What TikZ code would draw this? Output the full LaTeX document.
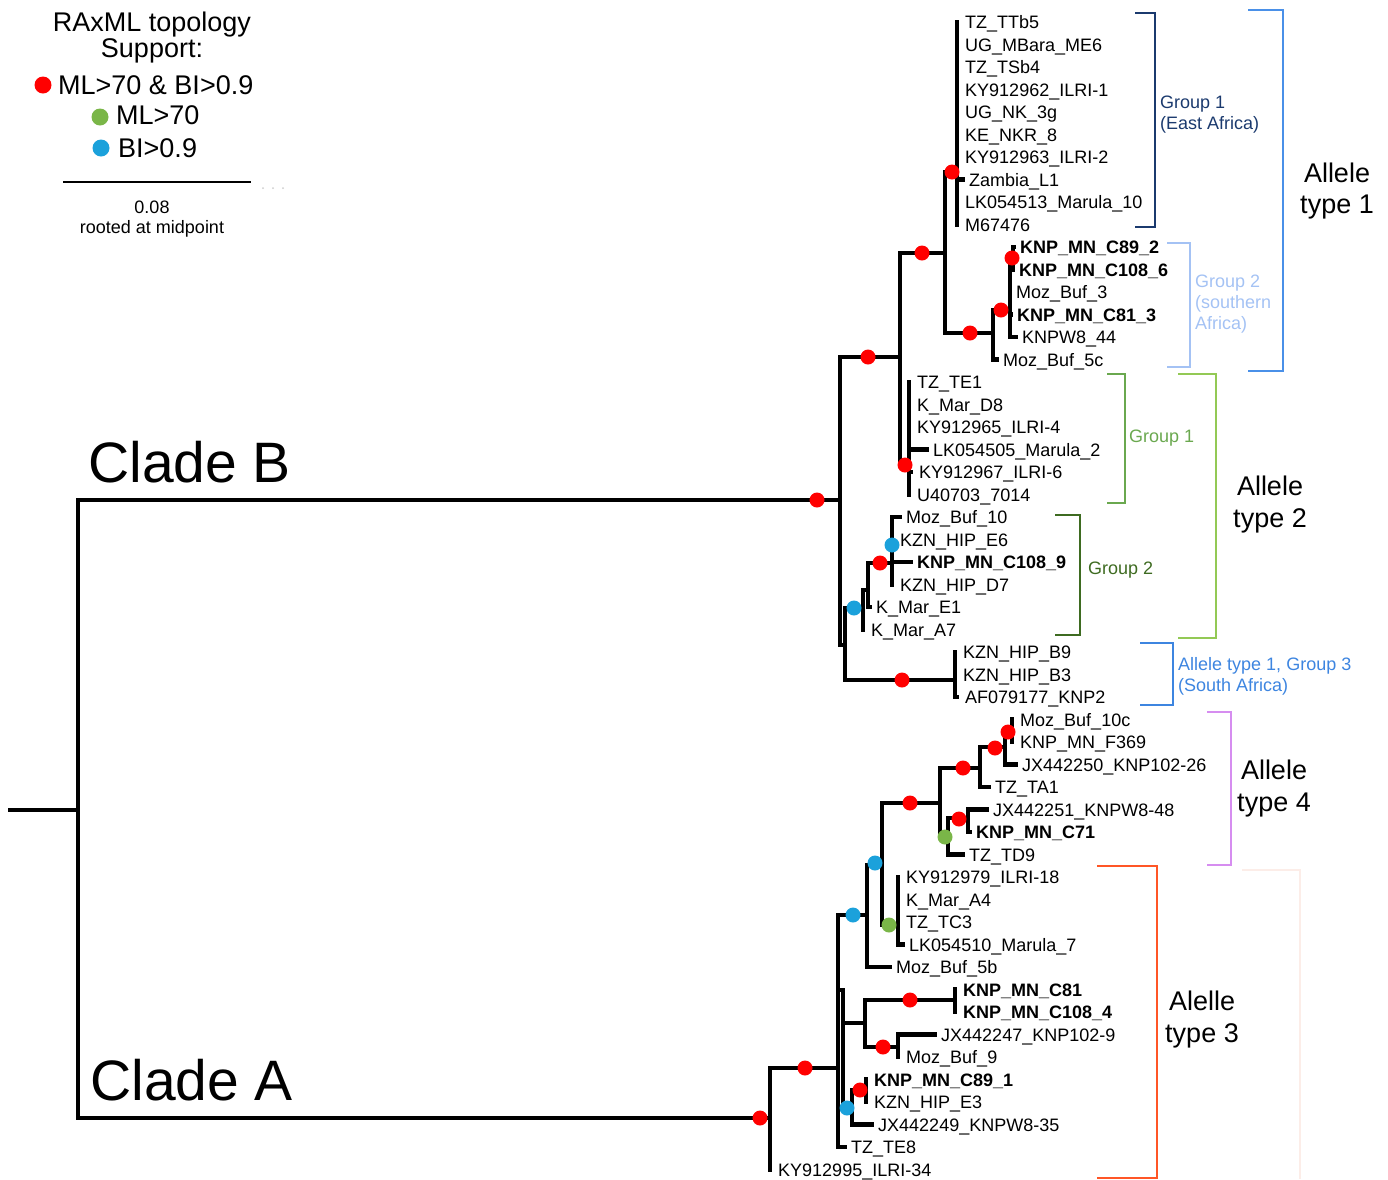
\documentclass[tikz,border=0pt]{standalone}
\usepackage{fontspec}
\setmainfont{Liberation Sans}
\definecolor{dotred}{HTML}{FF0000}
\definecolor{dotgreen}{HTML}{7AB648}
\definecolor{dotblue}{HTML}{1BA1DB}
\definecolor{eastnavy}{HTML}{1B3A6E}
\definecolor{southblue}{HTML}{A4C2F4}
\definecolor{typeoneblue}{HTML}{4A90E8}
\definecolor{grponegreen}{HTML}{6AA84F}
\definecolor{typetwogreen}{HTML}{93C955}
\definecolor{grptwogreen}{HTML}{3E6B21}
\definecolor{grpthreeblue}{HTML}{3D85E0}
\definecolor{typefourviolet}{HTML}{D68DF0}
\definecolor{typethreeorange}{HTML}{FF5626}
\definecolor{faintpink}{HTML}{FCEDE8}

\begin{document}
\begin{tikzpicture}[x=1pt,y=-1pt]
\tikzstyle{branch}=[line width=4.5pt,line cap=rect]
\tikzstyle{leaf}=[anchor=west,inner xsep=6pt,inner ysep=0pt,text height=13pt,text depth=0pt,font=\fontsize{18}{21}\selectfont]
\tikzstyle{leafbold}=[leaf,font=\fontsize{18}{21}\selectfont\bfseries]
\tikzstyle{leafz}=[leaf,inner xsep=8pt]
\tikzstyle{leafzbold}=[leafbold,inner xsep=8pt]
\tikzstyle{ml_bi}=[circle,fill=dotred,inner sep=0pt,minimum size=15pt]
\tikzstyle{ml}=[circle,fill=dotgreen,inner sep=0pt,minimum size=15pt]
\tikzstyle{bi}=[circle,fill=dotblue,inner sep=0pt,minimum size=15pt]
\tikzstyle{bracket}=[line width=2.5pt]
\tikzstyle{grouplabel}=[anchor=base west,inner sep=0pt,font=\fontsize{18}{21}\selectfont]
\tikzstyle{allele}=[anchor=base,inner sep=0pt,font=\fontsize{27}{31}\selectfont]
\tikzstyle{legend}=[anchor=base,inner sep=0pt,font=\fontsize{27}{30}\selectfont]

\useasboundingbox (0,0) rectangle (1388,1179);

%legend.
\node[legend] (legend_title) at (152,31) {RAxML topology};
\node[legend] (legend_support) at (152,57) {Support:};
\node[ml_bi,minimum size=17pt] (key_ml_bi) at (43,85) {};
\node[legend,anchor=base west] (key_ml_bi_text) at (58,94) {ML>70 \& BI>0.9};
\node[ml,minimum size=17pt] (key_ml) at (100,117) {};
\node[legend,anchor=base west] (key_ml_text) at (116,124) {ML>70};
\node[bi,minimum size=17pt] (key_bi) at (101,148) {};
\node[legend,anchor=base west] (key_bi_text) at (118,157) {BI>0.9};
\draw[line width=2pt] (63,182) -- (251,182);
\fill[black!20] (263,188) circle (1pt) (273,188) circle (1pt) (283,188) circle (1pt);
\node[anchor=base,inner sep=0pt,font=\fontsize{18}{21}\selectfont] (scale_value) at (152,213) {0.08};
\node[anchor=base,inner sep=0pt,font=\fontsize{18}{21}\selectfont] (scale_root) at (152,233) {rooted at midpoint};

\node[anchor=base west,inner sep=0pt,font=\fontsize{57}{60}\selectfont] (clade_b_label) at (88,482) {Clade B};
\node[anchor=base west,inner sep=0pt,font=\fontsize{57}{60}\selectfont] (clade_a_label) at (90,1100) {Clade A};

%leaves.
\node[leafz] (tz_ttb5) at (957,22) {TZ\_TTb5};
\node[leafz] (ug_mbara_me6) at (957,44.5) {UG\_MBara\_ME6};
\node[leafz] (tz_tsb4) at (957,67) {TZ\_TSb4};
\node[leafz] (ky_ilri_1) at (957,89.5) {KY912962\_ILRI-1};
\node[leafz] (ug_nk_3g) at (957,112) {UG\_NK\_3g};
\node[leafz] (ke_nkr_8) at (957,134.5) {KE\_NKR\_8};
\node[leafz] (ky_ilri_2) at (957,157) {KY912963\_ILRI-2};
\node[leaf] (zambia_l1) at (963,179.5) {Zambia\_L1};
\node[leafz] (lk_marula_10) at (957,202) {LK054513\_Marula\_10};
\node[leafz] (m67476) at (957,224.5) {M67476};
\node[leafbold] (knp_c89_2) at (1014,247) {KNP\_MN\_C89\_2};
\node[leafbold] (knp_c108_6) at (1013,269.5) {KNP\_MN\_C108\_6};
\node[leaf] (moz_buf_3) at (1010,292) {Moz\_Buf\_3};
\node[leafbold] (knp_c81_3) at (1011,314.5) {KNP\_MN\_C81\_3};
\node[leaf] (knpw8_44) at (1016,337) {KNPW8\_44};
\node[leaf] (moz_buf_5c) at (997,359.5) {Moz\_Buf\_5c};
\node[leafz] (tz_te1) at (909,382) {TZ\_TE1};
\node[leafz] (k_mar_d8) at (909,404.5) {K\_Mar\_D8};
\node[leafz] (ky_ilri_4) at (909,427) {KY912965\_ILRI-4};
\node[leaf] (lk_marula_2) at (927,449.5) {LK054505\_Marula\_2};
\node[leafz] (ky_ilri_6) at (911,472) {KY912967\_ILRI-6};
\node[leafz] (u40703) at (909,494.5) {U40703\_7014};
\node[leaf] (moz_buf_10) at (900,517) {Moz\_Buf\_10};
\node[leafz] (kzn_e6) at (892,539.5) {KZN\_HIP\_E6};
\node[leafbold] (knp_c108_9) at (911,562) {KNP\_MN\_C108\_9};
\node[leafz] (kzn_d7) at (892,584.5) {KZN\_HIP\_D7};
\node[leaf] (k_mar_e1) at (870,607) {K\_Mar\_E1};
\node[leafz] (k_mar_a7) at (863,629.5) {K\_Mar\_A7};
\node[leafz] (kzn_b9) at (955,652) {KZN\_HIP\_B9};
\node[leafz] (kzn_b3) at (955,674.5) {KZN\_HIP\_B3};
\node[leafz] (af079177) at (957,697) {AF079177\_KNP2};
\node[leafz] (moz_buf_10c) at (1012,719.5) {Moz\_Buf\_10c};
\node[leafz] (knp_f369) at (1012,742) {KNP\_MN\_F369};
\node[leaf] (jx_knp102_26) at (1016,764.5) {JX442250\_KNP102-26};
\node[leaf] (tz_ta1) at (989,787) {TZ\_TA1};
\node[leaf] (jx_knpw8_48) at (987,809.5) {JX442251\_KNPW8-48};
\node[leafbold] (knp_c71) at (970,832) {KNP\_MN\_C71};
\node[leaf] (tz_td9) at (963,854.5) {TZ\_TD9};
\node[leafz] (ky_ilri_18) at (898,877) {KY912979\_ILRI-18};
\node[leafz] (k_mar_a4) at (898,899.5) {K\_Mar\_A4};
\node[leafz] (tz_tc3) at (898,922) {TZ\_TC3};
\node[leaf] (lk_marula_7) at (903,944.5) {LK054510\_Marula\_7};
\node[leaf] (moz_buf_5b) at (890,967) {Moz\_Buf\_5b};
\node[leafzbold] (knp_c81) at (955,989.5) {KNP\_MN\_C81};
\node[leafzbold] (knp_c108_4) at (955,1012) {KNP\_MN\_C108\_4};
\node[leaf] (jx_knp102_9) at (935,1034.5) {JX442247\_KNP102-9};
\node[leafz] (moz_buf_9) at (898,1057) {Moz\_Buf\_9};
\node[leafzbold] (knp_c89_1) at (866,1079.5) {KNP\_MN\_C89\_1};
\node[leafz] (kzn_e3) at (866,1102) {KZN\_HIP\_E3};
\node[leaf] (jx_knpw8_35) at (872,1124.5) {JX442249\_KNPW8-35};
\node[leaf] (tz_te8) at (845,1147) {TZ\_TE8};
\node[leafz] (ky_ilri_34) at (770,1169.5) {KY912995\_ILRI-34};

%inner nodes.
\coordinate (root) at (10,810);
\coordinate (n_root) at (78,810);
\coordinate (clade_b) at (840,500);
\coordinate (clade_a) at (770,1118);
\coordinate (b_up) at (900,357);
\coordinate (b_low) at (845,645);
\coordinate (a1) at (945,253);
\coordinate (a1g1) at (957,172);
\coordinate (a1g2) at (993,333);
\coordinate (a1g2b) at (1010,310);
\coordinate (a1g2c) at (1013,258);
\coordinate (a2g1) at (909,465);
\coordinate (b_g2a) at (863,608);
\coordinate (b_g2b) at (868,590);
\coordinate (b_g2c) at (892,563);
\coordinate (b_sa) at (955,680);
\coordinate (a_main) at (838,1068);
\coordinate (a4g) at (867,915);
\coordinate (a4h) at (882,865);
\coordinate (a4) at (940,803);
\coordinate (a4b) at (980,768);
\coordinate (a4d) at (1005,747);
\coordinate (a4e) at (1012,731);
\coordinate (a4c) at (948,837);
\coordinate (a4f) at (968,818);
\coordinate (a3tc) at (898,925);
\coordinate (a3a) at (843,990);
\coordinate (a3b) at (865,1023);
\coordinate (a3f) at (955,1000);
\coordinate (a3g) at (898,1047);
\coordinate (a3d) at (852,1108);
\coordinate (a3e) at (866,1090);

%branches.
\draw[branch] (root) -- (n_root);
\draw[branch] (n_root) |- (clade_b) (n_root) |- (clade_a);
\draw[branch] (clade_b) |- (b_up) (clade_b) |- (b_low);
\draw[branch] (b_up) |- (a1) (b_up) |- (a2g1);
\draw[branch] (a1) |- (a1g1) (a1) |- (a1g2);
\draw[branch] (a1g1) |- (tz_ttb5.west) (a1g1) |- (ug_mbara_me6.west) (a1g1) |- (tz_tsb4.west)
  (a1g1) |- (ky_ilri_1.west) (a1g1) |- (ug_nk_3g.west) (a1g1) |- (ke_nkr_8.west) (a1g1) |- (ky_ilri_2.west)
  (a1g1) |- (zambia_l1.west) (a1g1) |- (lk_marula_10.west) (a1g1) |- (m67476.west);
\draw[branch] (a1g2) |- (a1g2b) (a1g2) |- (moz_buf_5c.west);
\draw[branch] (a1g2b) |- (a1g2c) (a1g2b) |- (moz_buf_3.west) (a1g2b) |- (knp_c81_3.west) (a1g2b) |- (knpw8_44.west);
\draw[branch] (a1g2c) |- (knp_c89_2.west) (a1g2c) |- (knp_c108_6.west);
\draw[branch] (a2g1) |- (tz_te1.west) (a2g1) |- (k_mar_d8.west) (a2g1) |- (ky_ilri_4.west)
  (a2g1) |- (lk_marula_2.west) (a2g1) |- (ky_ilri_6.west) (a2g1) |- (u40703.west);
\draw[branch] (b_low) |- (b_g2a) (b_low) |- (b_sa);
\draw[branch] (b_g2a) |- (b_g2b) (b_g2a) |- (k_mar_a7.west);
\draw[branch] (b_g2b) |- (b_g2c) (b_g2b) |- (k_mar_e1.west);
\draw[branch] (b_g2c) |- (moz_buf_10.west) (b_g2c) |- (kzn_e6.west) (b_g2c) |- (knp_c108_9.west) (b_g2c) |- (kzn_d7.west);
\draw[branch] (b_sa) |- (kzn_b9.west) (b_sa) |- (kzn_b3.west) (b_sa) |- (af079177.west);

\draw[branch] (clade_a) |- (a_main) (clade_a) |- (ky_ilri_34.west);
\draw[branch] (a_main) |- (a4g) (a_main) |- (a3a) (a_main) |- (tz_te8.west);
\draw[branch] (a4g) |- (a4h) (a4g) |- (moz_buf_5b.west);
\draw[branch] (a4h) |- (a4) (a4h) |- (a3tc);
\draw[branch] (a4) |- (a4b) (a4) |- (a4c);
\draw[branch] (a4b) |- (a4d) (a4b) |- (tz_ta1.west);
\draw[branch] (a4d) |- (a4e) (a4d) |- (jx_knp102_26.west);
\draw[branch] (a4e) |- (moz_buf_10c.west) (a4e) |- (knp_f369.west);
\draw[branch] (a4c) |- (a4f) (a4c) |- (tz_td9.west);
\draw[branch] (a4f) |- (jx_knpw8_48.west) (a4f) |- (knp_c71.west);
\draw[branch] (a3tc) |- (ky_ilri_18.west) (a3tc) |- (k_mar_a4.west) (a3tc) |- (tz_tc3.west) (a3tc) |- (lk_marula_7.west);
\draw[branch] (a3a) |- (a3b) (a3a) |- (a3d);
\draw[branch] (a3b) |- (a3f) (a3b) |- (a3g);
\draw[branch] (a3f) |- (knp_c81.west) (a3f) |- (knp_c108_4.west);
\draw[branch] (a3g) |- (jx_knp102_9.west) (a3g) |- (moz_buf_9.west);
\draw[branch] (a3d) |- (a3e) (a3d) |- (jx_knpw8_35.west);
\draw[branch] (a3e) |- (knp_c89_1.west) (a3e) |- (kzn_e3.west);

%support dots.
\node[ml_bi] (s_clade_b) at (817,500) {};
\node[ml_bi] (s_clade_a) at (760,1118) {};
\node[ml_bi] (s_b_up) at (868,357) {};
\node[ml_bi] (s_a1) at (922,253) {};
\node[ml_bi] (s_a1g1) at (952,172) {};
\node[ml_bi] (s_a1g2) at (970,333) {};
\node[ml_bi] (s_a1g2b) at (1001,310) {};
\node[ml_bi] (s_a1g2c) at (1012,258) {};
\node[ml_bi] (s_a2g1) at (905,465) {};
\node[ml_bi] (s_b_g2c) at (880,563) {};
\node[ml_bi] (s_b_sa) at (902,680) {};
\node[bi] (s_b_e6) at (892,545) {};
\node[bi] (s_b_g2a) at (854,608) {};
\node[ml_bi] (s_a_main) at (805,1068) {};
\node[ml_bi] (s_a4) at (910,803) {};
\node[ml_bi] (s_a4b) at (963,768) {};
\node[ml_bi] (s_a4d) at (995,748) {};
\node[ml_bi] (s_a4e) at (1008,732) {};
\node[ml_bi] (s_a4f) at (959,819) {};
\node[ml] (s_a4c) at (945,837) {};
\node[ml] (s_a3tc) at (889,925) {};
\node[bi] (s_a4h) at (875,863) {};
\node[bi] (s_a4g) at (853,915) {};
\node[ml_bi] (s_a3f) at (910,1000) {};
\node[ml_bi] (s_a3g) at (883,1047) {};
\node[ml_bi] (s_a3e) at (860,1090) {};
\node[bi] (s_a3d) at (847,1108) {};

%brackets.
\draw[bracket,eastnavy] (1135,13) -| (1155,227) -- (1135,227);
\node[grouplabel,text=eastnavy] (east_group) at (1160,108) {Group 1};
\node[grouplabel,text=eastnavy] (east_region) at (1160,129) {(East Africa)};
\draw[bracket,southblue] (1167,243) -| (1190,367) -- (1167,367);
\node[grouplabel,text=southblue] (south_group) at (1195,287) {Group 2};
\node[grouplabel,text=southblue] (south_region) at (1195,308) {(southern};
\node[grouplabel,text=southblue] (south_region_b) at (1195,329) {Africa)};
\draw[bracket,typeoneblue] (1248,10) -| (1283,371) -- (1248,371);
\node[allele] (allele_1) at (1337,182) {Allele};
\node[allele] (allele_1b) at (1337,213) {type 1};

\draw[bracket,grponegreen] (1107,374) -| (1125,503) -- (1107,503);
\node[grouplabel,text=grponegreen] (green_group_1) at (1129,442) {Group 1};
\draw[bracket,grptwogreen] (1055,515) -| (1080,635) -- (1055,635);
\node[grouplabel,text=grptwogreen] (green_group_2) at (1088,574) {Group 2};
\draw[bracket,typetwogreen] (1178,374) -| (1216,638) -- (1178,638);
\node[allele] (allele_2) at (1270,495) {Allele};
\node[allele] (allele_2b) at (1270,527) {type 2};

\draw[bracket,grpthreeblue] (1140,643) -| (1173,705) -- (1140,705);
\node[grouplabel,text=grpthreeblue] (group_3) at (1178,670) {Allele type 1, Group 3};
\node[grouplabel,text=grpthreeblue] (group_3b) at (1178,691) {(South Africa)};

\draw[bracket,typefourviolet] (1207,712) -| (1231,865) -- (1207,865);
\node[allele] (allele_4) at (1274,779) {Allele};
\node[allele] (allele_4b) at (1274,811) {type 4};

\draw[bracket,typethreeorange] (1097,866) -| (1157,1178) -- (1097,1178);
\node[allele] (allele_3) at (1202,1010) {Alelle};
\node[allele] (allele_3b) at (1202,1042) {type 3};
\draw[bracket,faintpink] (1242,870) -| (1300,1179);

\end{tikzpicture}
\end{document}
